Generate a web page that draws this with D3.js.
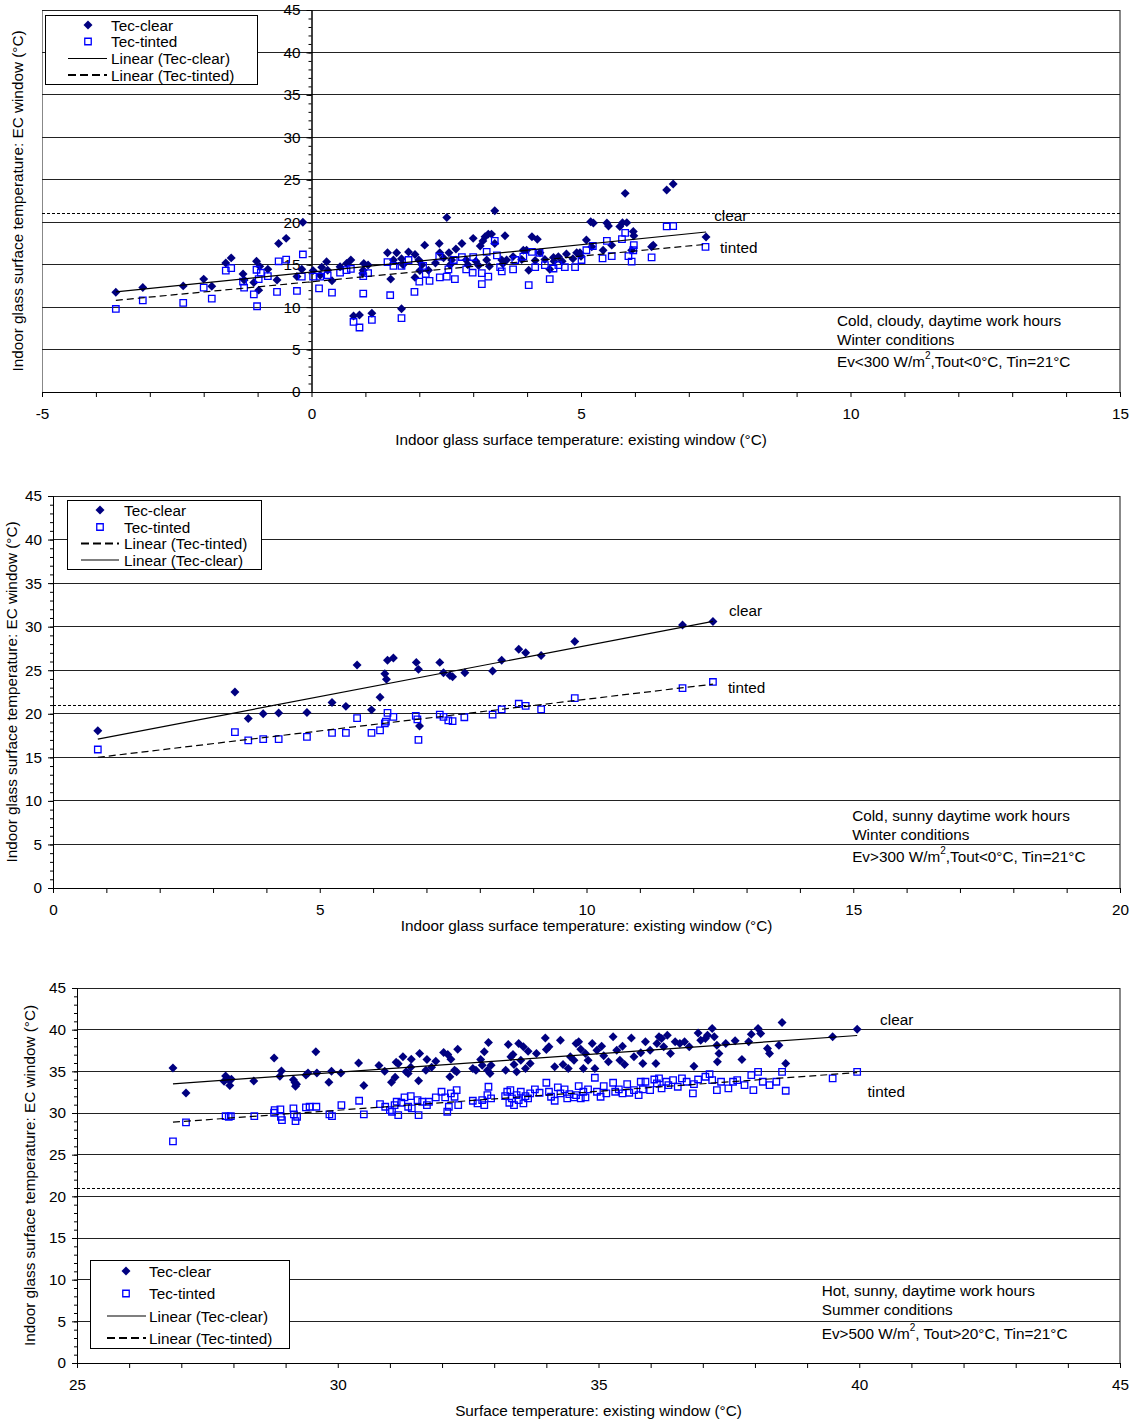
<!DOCTYPE html>
<html>
<head>
<meta charset="utf-8">
<script src="https://cdn.jsdelivr.net/npm/d3@7/dist/d3.min.js"></script>
<style>
  body { margin: 0; background: #fff; }
  svg text { font-family: "Liberation Sans", Arial, sans-serif; font-size: 15.3px; fill: #000; }
</style>
</head>
<body>
<svg id="chart" width="1135" height="1422"></svg>
<script>
// ---- data (x = existing window, y = EC window, °C) ----

// panel 1: cold, cloudy
const p1Clear = [
  [-3.63,11.75],[-3.13,12.3],[-2.38,12.5],[-2.0,13.3],[-1.85,12.45],[-1.59,15.2],[-1.49,15.8],[-1.27,13.9],
  [-1.25,13.2],[-1.07,12.9],[-1.02,15.4],[-0.98,12.0],[-0.96,14.8],[-0.81,14.45],[-0.64,13.2],[-0.61,17.5],
  [-0.47,18.1],[-0.27,13.6],[-0.18,14.45],[-0.16,20.0],[0.03,14.3],[0.16,13.75],[0.19,14.7],[0.28,15.35],
  [0.30,14.35],[0.38,13.1],[0.53,14.75],[0.65,15.15],[0.73,15.55],[0.78,8.95],[0.89,9.07],[0.97,15.15],
  [1.05,14.95],[1.12,9.27],[0.96,14.35],[0.95,14.0],[1.41,16.4],[1.47,13.3],[1.52,15.55],[1.58,16.4],
  [1.67,15.7],[1.67,9.8],[1.80,16.5],[1.92,16.2],[1.92,13.5],[1.99,15.55],[2.10,17.3],[2.01,14.3],
  [2.17,14.35],[2.37,17.5],[2.38,16.4],[2.51,20.55],[2.55,16.4],[2.57,14.95],[2.68,16.85],[2.79,17.5],
  [2.6,15.55],[2.87,15.55],[3.0,18.1],[3.13,17.2],[3.18,17.8],[3.22,18.3],[3.25,15.55],[3.28,18.6],
  [3.34,18.6],[3.40,21.35],[3.40,17.5],[3.59,18.4],[3.53,15.55],[3.62,15.55],[3.74,15.95],[3.93,16.7],
  [3.99,16.7],[4.03,14.35],[4.09,18.3],[4.19,18.0],[4.24,16.4],[4.33,15.6],[4.42,14.45],[4.49,15.85],
  [4.58,15.95],[4.73,16.25],[4.92,16.4],[4.98,16.4],[5.1,17.9],[5.18,20.05],[5.23,19.9],[5.2,17.1],
  [5.41,16.7],[5.48,19.9],[5.51,19.55],[5.57,17.3],[5.72,19.5],[5.77,19.95],[5.82,23.4],[5.85,19.95],
  [5.97,18.9],[5.98,18.4],[5.94,16.7],[6.34,17.3],[6.31,17.1],[6.59,23.8],[6.71,24.5],[7.32,18.25],
  [2.9,15.0],[3.1,14.9],[3.3,14.8],[3.55,15.1],[3.9,15.6],[4.15,15.5],[4.5,15.4],[4.65,15.4],
  [4.85,15.7],[5.0,16.0],[2.3,15.2],[1.7,15.0],[2.05,15.0],[2.45,15.8],[3.05,15.4]
];
const p1Tinted = [
  [-3.63,9.78],[-3.13,10.8],[-2.38,10.5],[-2.0,12.3],[-1.85,11.0],[-1.59,14.3],[-1.49,14.6],[-1.27,13.0],
  [-1.25,12.3],[-1.07,11.5],[-1.02,14.4],[-1.01,10.1],[-0.98,13.3],[-0.94,14.05],[-0.81,13.65],[-0.64,11.8],
  [-0.61,15.4],[-0.47,15.6],[-0.27,11.9],[-0.18,13.6],[-0.16,16.2],[0.03,13.6],[0.14,12.2],[0.16,13.6],
  [0.30,13.75],[0.38,11.7],[0.53,14.05],[0.65,14.35],[0.73,14.5],[0.78,8.25],[0.89,7.6],[0.96,11.6],
  [0.96,13.65],[1.05,14.0],[1.12,8.5],[1.41,15.3],[1.46,11.4],[1.52,14.85],[1.67,14.85],[1.67,8.7],
  [1.80,15.55],[1.91,11.8],[2.0,13.0],[2.07,14.85],[2.12,13.9],[2.19,13.1],[2.37,15.95],[2.38,13.5],
  [2.51,13.6],[2.54,14.45],[2.64,15.55],[2.66,13.3],[2.79,15.9],[2.87,14.45],[2.99,14.05],[3.0,15.9],
  [3.16,12.7],[3.16,14.0],[3.25,16.5],[3.28,13.6],[3.40,17.8],[3.44,16.1],[3.5,14.7],[3.53,14.2],
  [3.74,14.45],[3.78,15.55],[3.93,15.95],[4.03,12.6],[4.09,16.5],[4.15,14.7],[4.23,16.4],[4.33,14.95],
  [4.42,13.3],[4.49,14.55],[4.58,14.95],[4.70,14.7],[4.89,14.7],[5.01,15.55],[5.1,16.7],[5.22,17.2],
  [5.40,15.75],[5.48,17.8],[5.57,16.0],[5.76,18.0],[5.82,18.75],[5.88,16.0],[5.94,15.35],[5.98,17.3],
  [5.97,16.7],[6.31,15.85],[6.59,19.5],[6.71,19.55],[7.31,17.1]
];
const p1ClearTrend = [[-3.63, 11.8], [7.32, 18.85]];
const p1TintedTrend = [[-3.63, 10.8], [7.32, 17.4]];

// panel 2: cold, sunny
const p2Clear = [
  [0.84,18.05],[3.41,22.5],[3.66,19.45],[3.94,20.0],[4.23,20.1],[4.76,20.15],[5.23,21.3],[5.49,20.85],
  [5.70,25.6],[5.97,20.45],[6.13,21.9],[6.22,24.6],[6.25,23.95],[6.27,26.15],[6.38,26.4],[6.81,25.9],
  [6.85,25.1],[6.87,18.6],[7.25,25.9],[7.32,24.7],[7.44,24.4],[7.49,24.25],[7.72,24.7],[8.24,24.9],
  [8.41,26.15],[8.73,27.4],[8.86,27.0],[9.15,26.7],[9.78,28.3],[11.80,30.2],[12.37,30.6]
];
const p2Tinted = [
  [0.84,15.9],[3.41,17.9],[3.66,16.95],[3.94,17.1],[4.23,17.1],[4.76,17.35],[5.23,17.8],[5.49,17.8],
  [5.70,19.5],[5.97,17.8],[6.13,18.1],[6.22,18.9],[6.24,19.1],[6.27,20.1],[6.38,19.65],[6.80,19.75],
  [6.83,19.35],[6.85,17.0],[7.25,19.9],[7.32,19.65],[7.41,19.25],[7.49,19.15],[7.71,19.6],[8.24,19.9],
  [8.41,20.5],[8.73,21.15],[8.86,20.9],[9.15,20.5],[9.78,21.8],[11.80,22.95],[12.37,23.65]
];
const p2ClearTrend = [[0.84, 17.1], [12.37, 30.6]];
const p2TintedTrend = [[0.84, 15.0], [12.37, 23.4]];

// panel 3: hot, sunny
const p3Clear = [
  [26.84,35.4],[27.09,32.4],[27.82,33.8],[27.85,34.45],[27.91,34.0],[27.93,33.3],[27.96,34.05],[28.39,33.85],
  [28.78,36.6],[28.89,34.4],[28.92,35.05],[29.15,34.0],[29.18,33.65],[29.19,33.2],[29.21,33.45],[29.39,34.55],
  [29.43,34.8],[29.58,37.35],[29.6,34.8],[29.83,33.7],[29.88,35.0],[30.06,34.8],[30.4,36.0],[30.5,33.3],
  [30.79,35.7],[30.9,35.0],[31.03,33.7],[31.1,34.3],[31.12,36.1],[31.16,35.9],[31.25,36.74],[31.31,34.94],
  [31.35,34.74],[31.41,36.46],[31.4,35.5],[31.55,33.86],[31.57,37.14],[31.71,36.42],[31.69,35.14],[31.8,35.5],
  [31.88,36.2],[32.03,37.26],[32.11,37.02],[32.15,34.34],[32.17,36.46],[32.24,35.14],[32.28,34.94],[32.3,37.66],
  [32.59,35.34],[32.65,35.14],[32.74,36.42],[32.77,35.74],[32.81,37.34],[32.89,38.46],[32.87,35.14],[32.92,34.74],
  [32.94,35.74],[33.22,35.14],[33.27,38.22],[33.32,36.74],[33.36,37.02],[33.38,35.82],[33.43,34.94],[33.47,38.34],
  [33.51,36.34],[33.56,37.94],[33.6,35.34],[33.65,37.42],[33.69,35.94],[33.81,37.14],[33.98,39.0],[34.0,37.62],
  [34.05,37.94],[34.16,35.54],[34.27,38.74],[34.32,35.82],[34.42,35.34],[34.46,36.74],[34.53,36.34],[34.57,38.34],
  [34.62,38.54],[34.66,37.66],[34.71,35.34],[34.75,37.14],[34.8,36.34],[34.88,38.34],[34.93,35.34],[34.97,37.54],
  [35.06,38.02],[35.1,36.86],[35.19,36.14],[35.28,39.14],[35.35,37.54],[35.41,36.34],[35.46,38.02],[35.5,35.82],
  [35.63,39.0],[35.68,36.74],[35.81,37.22],[35.85,35.94],[35.9,38.54],[35.99,37.54],[36.1,35.94],[36.12,38.34],
  [36.16,39.14],[36.21,38.94],[36.25,37.94],[36.32,39.34],[36.38,37.14],[36.47,38.54],[36.56,38.34],[36.65,38.54],
  [36.74,37.94],[36.83,35.62],[36.91,39.61],[36.96,38.74],[37.05,38.94],[37.09,39.34],[37.18,40.13],[37.22,39.14],
  [37.27,38.14],[37.31,37.14],[37.28,36.14],[37.44,38.34],[37.62,38.66],[37.75,36.42],[37.88,38.54],[37.93,39.46],
  [38.06,40.13],[38.11,39.54],[38.24,37.74],[38.28,37.14],[38.46,38.14],[38.52,40.85],[38.59,35.94],[39.49,39.14],
  [39.96,40.05]
];
const p3Tinted = [
  [26.84,26.6],[27.09,28.87],[27.85,29.63],[27.91,29.55],[27.95,29.63],[28.4,29.63],[28.78,30.03],[28.79,30.35],
  [28.9,30.43],[28.91,29.55],[28.93,29.15],[29.15,30.55],[29.16,29.83],[29.19,29.03],[29.22,29.55],[29.39,30.67],
  [29.46,30.75],[29.59,30.75],[29.84,29.83],[29.89,29.63],[30.07,30.95],[30.41,31.47],[30.5,29.83],[30.81,31.07],
  [30.91,30.75],[31.0,30.35],[31.04,30.15],[31.09,30.95],[31.13,31.35],[31.16,29.75],[31.22,31.23],[31.28,31.87],
  [31.35,30.75],[31.4,32.03],[31.42,30.55],[31.53,31.55],[31.55,29.75],[31.62,31.35],[31.71,30.95],[31.75,31.35],
  [31.88,31.87],[31.99,32.55],[32.06,31.87],[32.1,30.15],[32.13,30.75],[32.17,32.35],[32.24,31.95],[32.28,32.75],
  [32.31,30.95],[32.59,31.47],[32.68,31.15],[32.77,31.55],[32.81,30.95],[32.87,32.15],[32.89,33.15],[32.94,31.75],
  [33.21,32.03],[33.25,32.55],[33.29,31.23],[33.31,32.75],[33.34,31.75],[33.38,30.95],[33.43,32.15],[33.47,31.55],
  [33.51,32.55],[33.56,31.15],[33.6,32.03],[33.65,31.75],[33.69,32.35],[33.78,32.83],[33.87,32.43],[34.0,33.63],
  [34.05,32.55],[34.09,31.95],[34.16,31.47],[34.22,33.07],[34.27,32.35],[34.35,32.83],[34.4,31.75],[34.44,32.27],
  [34.53,31.87],[34.57,32.15],[34.62,33.23],[34.66,31.75],[34.71,32.55],[34.75,31.87],[34.8,32.83],[34.93,34.23],
  [34.97,32.55],[35.04,31.95],[35.1,33.23],[35.15,32.35],[35.28,33.63],[35.32,32.55],[35.39,32.83],[35.46,32.35],
  [35.55,33.47],[35.59,32.43],[35.68,32.75],[35.77,32.15],[35.81,33.75],[35.85,32.83],[35.9,33.75],[35.99,32.75],
  [36.07,34.02],[36.12,33.55],[36.16,34.15],[36.21,32.95],[36.3,33.75],[36.34,33.35],[36.43,33.95],[36.52,33.15],
  [36.6,34.15],[36.69,33.75],[36.81,32.35],[36.83,33.47],[36.91,34.02],[37.05,34.35],[37.13,34.66],[37.18,33.95],
  [37.27,32.75],[37.35,33.75],[37.49,32.95],[37.58,33.75],[37.66,33.95],[37.8,33.35],[37.93,34.55],[37.97,32.75],
  [38.06,34.94],[38.15,33.75],[38.28,33.35],[38.41,33.75],[38.52,34.94],[38.59,32.67],[39.49,34.15],[39.96,34.94]
];
const p3ClearTrend = [[26.84, 33.5], [39.96, 39.3]];
const p3TintedTrend = [[26.84, 28.9], [39.96, 34.85]];

// axis values and labels
const yDomain = [0, 45];
const tinLevel = 21;
const p1XDomain = [-5, 15];
const p2XDomain = [0, 20];
const p3XDomain = [25, 45];
const yTitle = 'Indoor glass surface temperature: EC window (°C)';
const p1XTitle = 'Indoor glass surface temperature: existing window (°C)';
const p2XTitle = 'Indoor glass surface temperature: existing window (°C)';
const p3XTitle = 'Surface temperature: existing window (°C)';
const p1Notes = ['Cold, cloudy, daytime work hours', 'Winter conditions', ['Ev<300 W/m', '2', ',Tout<0°C, Tin=21°C']];
const p2Notes = ['Cold, sunny daytime work hours', 'Winter conditions', ['Ev>300 W/m', '2', ',Tout<0°C, Tin=21°C']];
const p3Notes = ['Hot, sunny, daytime work hours', 'Summer conditions', ['Ev>500 W/m', '2', ', Tout>20°C, Tin=21°C']];
const legendOrderA = ['Tec-clear', 'Tec-tinted', 'Linear (Tec-clear)', 'Linear (Tec-tinted)'];
const legendOrderB = ['Tec-clear', 'Tec-tinted', 'Linear (Tec-tinted)', 'Linear (Tec-clear)'];

const CLEAR = '#000080';
const TINTED = '#0000ff';
const FONT = '15.3px';

const svg = d3.select('#chart');

// panel layout (pixel boxes), the chart data comes from the arrays above
const panels = [
  { box: { l: 42, r: 1120, t: 10, b: 392 }, xDomain: p1XDomain, yAxisAt: 0,
    clear: p1Clear, tinted: p1Tinted, clearTrend: p1ClearTrend, tintedTrend: p1TintedTrend,
    xTitle: p1XTitle, xTitleY: 445, yTitleX: 23, notes: p1Notes, noteAt: [9.75, 8.48], noteGap: [0, 2.24, 4.83],
    clearLbl: [7.47, 20.85], tintedLbl: [7.58, 17.08],
    legend: { x: 45, y: 15, w: 212, h: 69, rows: [25, 41.5, 58.5, 75], mark: 88, line: [68, 107], text: 111, order: legendOrderA } },
  { box: { l: 53, r: 1120, t: 496, b: 888 }, xDomain: p2XDomain, yAxisAt: 0,
    clear: p2Clear, tinted: p2Tinted, clearTrend: p2ClearTrend, tintedTrend: p2TintedTrend,
    xTitle: p2XTitle, xTitleY: 931, yTitleX: 17, notes: p2Notes, noteAt: [14.98, 8.37], noteGap: [0, 2.18, 4.7],
    clearLbl: [12.67, 31.9], tintedLbl: [12.65, 23.05],
    legend: { x: 67, y: 500, w: 194, h: 69, rows: [510, 527, 543.5, 560], mark: 100, line: [81, 119], text: 124, order: legendOrderB } },
  { box: { l: 77, r: 1120, t: 988, b: 1363 }, xDomain: p3XDomain, yAxisAt: 25,
    clear: p3Clear, tinted: p3Tinted, clearTrend: p3ClearTrend, tintedTrend: p3TintedTrend,
    xTitle: p3XTitle, xTitleY: 1416, yTitleX: 35, notes: p3Notes, noteAt: [39.28, 8.66], noteGap: [0, 2.27, 5.03],
    clearLbl: [40.4, 41.25], tintedLbl: [40.16, 32.63],
    legend: { x: 90, y: 1260, w: 199, h: 88, rows: [1271, 1293.5, 1316, 1338], mark: 126, line: [107, 146], text: 149, order: legendOrderA } }
];

const diamond = d3.symbol().type(d3.symbolSquare).size(40);
const square = d3.symbol().type(d3.symbolSquare).size(42);

panels.forEach(drawPanel);

function drawPanel(p) {
  const b = p.box;
  const x = d3.scaleLinear().domain(p.xDomain).range([b.l, b.r]);
  const y = d3.scaleLinear().domain(yDomain).range([b.b, b.t]);
  const g = svg.append('g');

  // plot frame (grey, like the spreadsheet plot area)
  g.append('line').attr('x1', b.l).attr('x2', b.l).attr('y1', b.t).attr('y2', b.b)
    .attr('stroke', '#888').attr('shape-rendering', 'crispEdges');
  g.append('line').attr('x1', b.r).attr('x2', b.r).attr('y1', b.t).attr('y2', b.b)
    .attr('stroke', '#888').attr('stroke-width', 1.5).attr('shape-rendering', 'crispEdges');

  // horizontal gridlines every 5
  g.selectAll('.grid')
    .data(d3.range(5, 46, 5))
    .enter().append('line')
    .attr('x1', b.l).attr('x2', b.r)
    .attr('y1', d => y(d)).attr('y2', d => y(d))
    .attr('stroke', '#222').attr('shape-rendering', 'crispEdges');

  // Tin = 21 reference line
  g.append('line')
    .attr('x1', b.l).attr('x2', b.r)
    .attr('y1', y(tinLevel)).attr('y2', y(tinLevel))
    .attr('stroke', '#000').attr('stroke-dasharray', '3,2').attr('shape-rendering', 'crispEdges');

  // x axis: ticks every 1, labels every 5
  const xAxis = g.append('g')
    .attr('transform', `translate(0, ${b.b})`)
    .call(d3.axisBottom(x)
      .tickValues(d3.range(p.xDomain[0], p.xDomain[1] + 1, 1))
      .tickFormat(d => d % 5 === 0 ? d : '')
      .tickSize(5).tickSizeOuter(0).tickPadding(11));
  styleAxis(xAxis);

  // y axis: minor every 1, major every 5
  const ax = x(p.yAxisAt);
  const yMinor = g.append('g')
    .attr('transform', `translate(${ax}, 0)`)
    .call(d3.axisLeft(y).tickValues(d3.range(0, 46, 1)).tickFormat('').tickSize(3).tickSizeOuter(0));
  styleAxis(yMinor);
  const yMajor = g.append('g')
    .attr('transform', `translate(${ax}, 0)`)
    .call(d3.axisLeft(y).tickValues(d3.range(0, 46, 5)).tickSize(5).tickSizeOuter(0).tickPadding(6));
  styleAxis(yMajor);

  // markers
  g.selectAll('.clear')
    .data(p.clear)
    .enter().append('path')
    .attr('d', diamond)
    .attr('transform', d => `translate(${x(d[0])}, ${y(d[1])}) rotate(45)`)
    .attr('fill', CLEAR);

  g.selectAll('.tinted')
    .data(p.tinted)
    .enter().append('path')
    .attr('d', square)
    .attr('transform', d => `translate(${x(d[0])}, ${y(d[1])})`)
    .attr('fill', 'none').attr('stroke', TINTED).attr('stroke-width', 1.3);

  // linear trendlines
  const line = d3.line().x(d => x(d[0])).y(d => y(d[1]));
  g.append('path').attr('d', line(p.clearTrend))
    .attr('fill', 'none').attr('stroke', '#000').attr('stroke-width', 1.2);
  g.append('path').attr('d', line(p.tintedTrend))
    .attr('fill', 'none').attr('stroke', '#000').attr('stroke-width', 1.2).attr('stroke-dasharray', '7,4');

  // series labels
  g.append('text').attr('x', x(p.clearLbl[0])).attr('y', y(p.clearLbl[1]))
    .attr('dominant-baseline', 'central').text('clear');
  g.append('text').attr('x', x(p.tintedLbl[0])).attr('y', y(p.tintedLbl[1]))
    .attr('dominant-baseline', 'central').text('tinted');

  // condition notes
  p.notes.forEach((n, i) => {
    const t = g.append('text')
      .attr('x', x(p.noteAt[0]))
      .attr('y', y(p.noteAt[1] - p.noteGap[i]))
      .attr('dominant-baseline', 'central');
    if (Array.isArray(n)) {
      t.append('tspan').text(n[0]);
      t.append('tspan').attr('dy', -6).attr('font-size', '10px').text(n[1]);
      t.append('tspan').attr('dy', 6).text(n[2]);
    } else {
      t.text(n);
    }
  });

  // axis titles
  g.append('text')
    .attr('x', (b.l + b.r) / 2).attr('y', p.xTitleY)
    .attr('text-anchor', 'middle').text(p.xTitle);
  g.append('text')
    .attr('transform', `translate(${p.yTitleX}, ${(b.t + b.b) / 2}) rotate(-90)`)
    .attr('text-anchor', 'middle').text(yTitle);

  drawLegend(p.legend);
}

function styleAxis(sel) {
  sel.select('.domain').attr('stroke', '#000');
  sel.selectAll('line').attr('stroke', '#000');
  sel.selectAll('text').attr('font-size', FONT).attr('font-family', '"Liberation Sans", Arial, sans-serif').attr('fill', '#000');
}

function drawLegend(L) {
  const lg = svg.append('g');
  lg.append('rect').attr('x', L.x).attr('y', L.y).attr('width', L.w).attr('height', L.h)
    .attr('fill', '#fff').attr('stroke', '#000').attr('shape-rendering', 'crispEdges');
  L.order.forEach((name, i) => {
    const ry = L.rows[i];
    if (name === 'Tec-clear') {
      lg.append('path').attr('d', diamond).attr('transform', `translate(${L.mark}, ${ry}) rotate(45)`).attr('fill', CLEAR);
    } else if (name === 'Tec-tinted') {
      lg.append('path').attr('d', square).attr('transform', `translate(${L.mark}, ${ry})`)
        .attr('fill', 'none').attr('stroke', TINTED).attr('stroke-width', 1.3);
    } else {
      lg.append('line').attr('x1', L.line[0]).attr('x2', L.line[1]).attr('y1', ry).attr('y2', ry)
        .attr('stroke', '#000').attr('stroke-width', name.includes('tinted') ? 2 : 1.2)
        .attr('stroke-dasharray', name.includes('tinted') ? '8,4' : null);
    }
    lg.append('text').attr('x', L.text).attr('y', ry).attr('dominant-baseline', 'central').text(name);
  });
}
</script>
</body>
</html>
